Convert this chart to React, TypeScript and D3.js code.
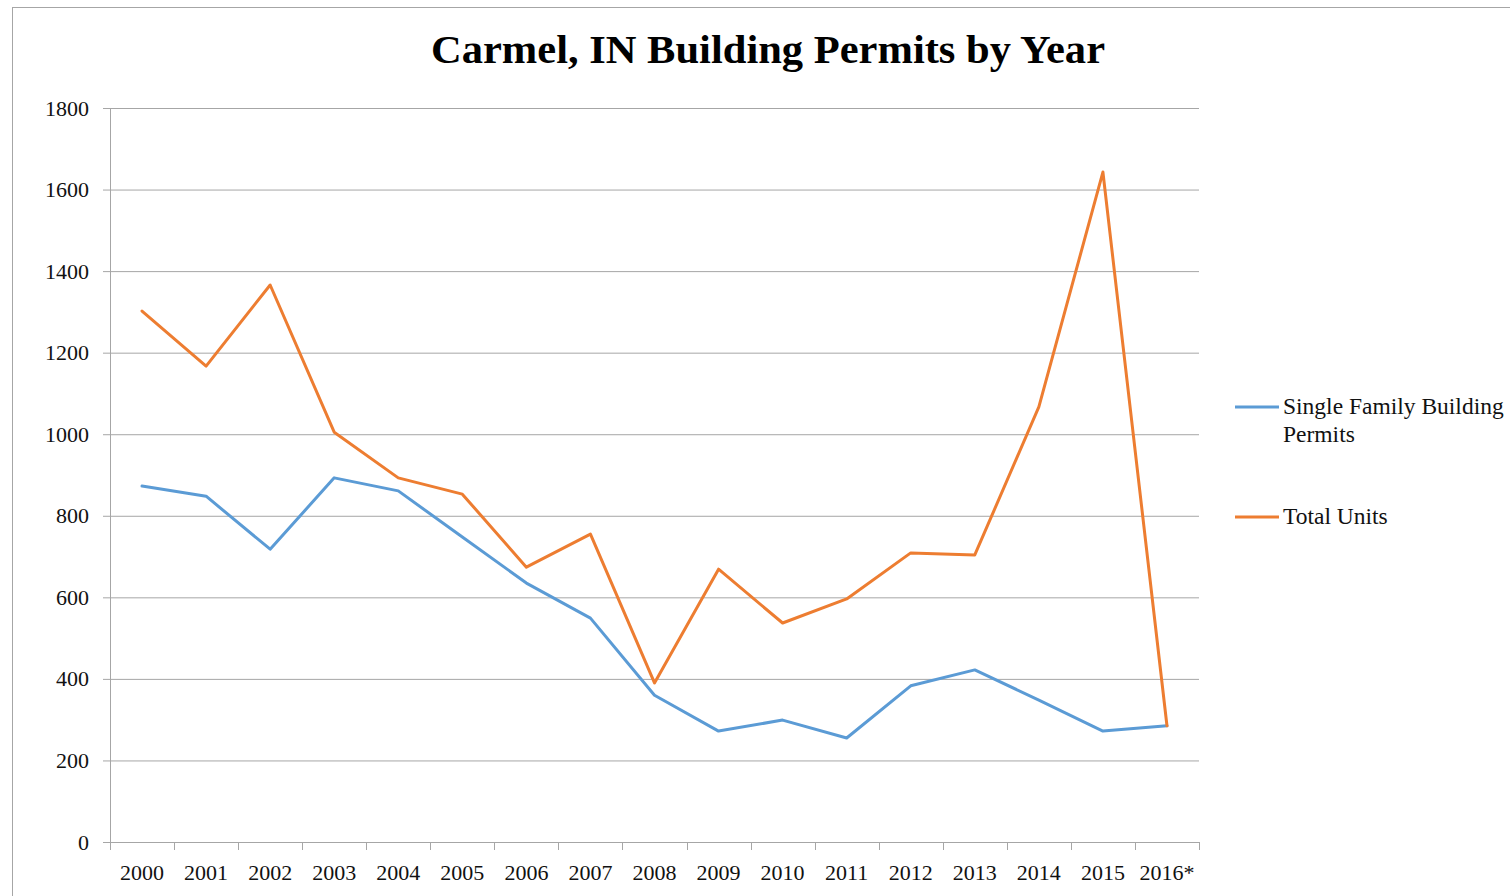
import React, { useEffect, useRef } from 'react';
import * as d3 from 'd3';

const years = ['2000', '2001', '2002', '2003', '2004', '2005', '2006', '2007', '2008',
  '2009', '2010', '2011', '2012', '2013', '2014', '2015', '2016*'];
const singleFamily = [873, 848, 718, 893, 861, 748, 635, 549, 360, 272, 299, 255, 383, 422, 348, 272, 285];
const totalUnits = [1302, 1167, 1366, 1005, 893, 853, 674, 755, 390, 669, 537, 596, 709, 704, 1067, 1643, 285];
const yTicks = [0, 200, 400, 600, 800, 1000, 1200, 1400, 1600, 1800];
const seriesNames = ['Single Family Building Permits', 'Total Units'];
const seriesColors = ['#5b9bd5', '#ed7d31'];

const FONT = '"Liberation Serif", "DejaVu Serif", serif';

export default function App() {
  const ref = useRef<SVGSVGElement>(null);

  useEffect(() => {
    const svg = d3.select(ref.current);
    svg.selectAll('*').remove();

    const W = 1510, H = 896;
    const margin = { top: 108, left: 110, right: 311, bottom: 54 };
    const width = W - margin.left - margin.right;
    const height = H - margin.top - margin.bottom;

    svg.attr('width', W).attr('height', H)
      .style('position', 'absolute').style('left', 0).style('top', 0)
      .style('font-family', FONT);

    // outer frame
    svg.append('rect')
      .attr('x', 12.5).attr('y', 7.5)
      .attr('width', W + 20).attr('height', H + 20)
      .attr('fill', 'white').attr('stroke', '#a6a6a6').attr('stroke-width', 1);

    svg.append('text')
      .attr('x', 768).attr('y', 63)
      .attr('text-anchor', 'middle')
      .style('font-size', '41px').style('font-weight', 'bold')
      .attr('textLength', 674).attr('lengthAdjust', 'spacingAndGlyphs')
      .text('Carmel, IN Building Permits by Year');

    const g = svg.append('g').attr('transform', `translate(${margin.left},${margin.top})`);

    const x = d3.scaleBand().domain(years).range([0, width]);
    const y = d3.scaleLinear().domain([0, 1800]).range([height, 0]);

    // gridlines + y labels
    const yAxis = g.append('g')
      .call(d3.axisLeft(y).tickValues(yTicks).tickSize(-width).tickPadding(21).tickFormat(d3.format('d')));
    yAxis.select('.domain').remove();
    yAxis.selectAll('.tick line').attr('stroke', '#a6a6a6').attr('x1', -7);
    yAxis.selectAll('.tick text').style('font-size', '22px').style('font-family', FONT).attr('fill', '#111');

    // y axis line
    g.append('line').attr('x1', 0.5).attr('x2', 0.5).attr('y1', 0).attr('y2', height)
      .attr('stroke', '#a6a6a6');

    // x axis
    const xAxis = g.append('g').attr('transform', `translate(0,${height})`)
      .call(d3.axisBottom(x).tickSize(0).tickPadding(22));
    xAxis.select('.domain').attr('stroke', '#a6a6a6');
    xAxis.selectAll('.tick text').style('font-size', '22px').style('font-family', FONT).attr('fill', '#111');
    const bounds = years.map(d => x(d) as number).concat([width]);
    g.append('g').selectAll('line').data(bounds).join('line')
      .attr('x1', d => Math.round(d) + 0.5).attr('x2', d => Math.round(d) + 0.5)
      .attr('y1', height).attr('y2', height + 8)
      .attr('stroke', '#a6a6a6');

    const cx = (d: string) => (x(d) as number) + x.bandwidth() / 2;
    const line = d3.line<number>()
      .x((_, i) => cx(years[i]))
      .y(v => y(v));

    [singleFamily, totalUnits].forEach((vals, i) => {
      g.append('path').datum(vals)
        .attr('d', line)
        .attr('fill', 'none')
        .attr('stroke', seriesColors[i])
        .attr('stroke-width', 3)
        .attr('stroke-linejoin', 'round')
        .attr('stroke-linecap', 'round');
    });

    // legend
    const leg = svg.append('g');
    const legY = [407, 517];
    seriesNames.forEach((name, i) => {
      leg.append('line')
        .attr('x1', 1235).attr('x2', 1279).attr('y1', legY[i]).attr('y2', legY[i])
        .attr('stroke', seriesColors[i]).attr('stroke-width', 3);
      const t = leg.append('text').attr('x', 1283).attr('y', legY[i] + 7)
        .style('font-size', '23.5px').attr('fill', '#111');
      if (i === 0) {
        t.append('tspan').attr('x', 1283).text('Single Family Building');
        t.append('tspan').attr('x', 1283).attr('dy', 28).text('Permits');
      } else {
        t.text(name);
      }
    });
  }, []);

  return <svg ref={ref} />;
}
